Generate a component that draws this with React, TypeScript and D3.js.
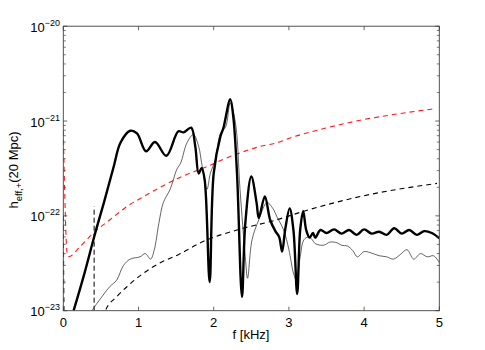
import React from "react";
import * as d3 from "d3";

// frequency [kHz], h_eff,+ (strain)
const thickF = [0.137, 0.27, 0.40, 0.45, 0.54, 0.67, 0.76, 0.89, 0.98, 1.10, 1.22, 1.37, 1.53, 1.60, 1.70, 1.755, 1.80, 1.84, 1.88, 1.946, 2.0, 2.09, 2.13, 2.22, 2.26, 2.31, 2.376, 2.42, 2.50, 2.57, 2.60, 2.68, 2.75, 2.82, 2.87, 2.91, 2.95, 3.01, 3.06, 3.11, 3.15, 3.19, 3.23, 3.275, 3.32, 3.35, 3.42, 3.5, 3.6, 3.7, 3.8, 3.9, 4.0, 4.1, 4.2, 4.3, 4.4, 4.5, 4.6, 4.7, 4.8, 4.9, 5.0];
const thickH = [1.0e-23, 2.3e-23, 5.6e-23, 7.8e-23, 1.38e-22, 3.3e-22, 5.9e-22, 7.9e-22, 7.4e-22, 4.8e-22, 6.0e-22, 4.3e-22, 7.8e-22, 7.6e-22, 8.5e-22, 5.4e-22, 2.8e-22, 3.2e-22, 2.4e-22, 2.0e-23, 2.8e-22, 6.9e-22, 8.5e-22, 1.7e-21, 1.12e-21, 2.8e-22, 1.4e-23, 8.3e-23, 2.6e-22, 1.38e-22, 9.5e-23, 1.6e-22, 9.1e-23, 6.9e-23, 6.0e-23, 4.2e-23, 7.1e-23, 1.2e-22, 7.1e-23, 1.5e-23, 7.1e-23, 1.12e-22, 7.1e-23, 5.9e-23, 6.6e-23, 5.9e-23, 7.1e-23, 6.6e-23, 7.2e-23, 6.5e-23, 7.1e-23, 6.3e-23, 7.2e-23, 6.5e-23, 6.8e-23, 6.3e-23, 7.4e-23, 6.5e-23, 7.1e-23, 6.3e-23, 6.9e-23, 6.6e-23, 5.8e-23];

const thinF = [0.38, 0.45, 0.54, 0.62, 0.71, 0.80, 0.89, 1.02, 1.09, 1.16, 1.21, 1.27, 1.33, 1.42, 1.51, 1.56, 1.645, 1.73, 1.80, 1.84, 1.91, 1.955, 2.02, 2.09, 2.16, 2.22, 2.29, 2.35, 2.42, 2.45, 2.51, 2.60, 2.71, 2.80, 2.84, 2.93, 3.0, 3.06, 3.10, 3.15, 3.2, 3.26, 3.31, 3.35, 3.46, 3.55, 3.64, 3.70, 3.78, 3.85, 3.91, 4.0, 4.08, 4.2, 4.30, 4.39, 4.48, 4.57, 4.66, 4.75, 4.84, 4.92, 4.97, 5.0];
const thinH = [1.0e-23, 1.2e-23, 1.5e-23, 1.8e-23, 2.1e-23, 3.0e-23, 3.5e-23, 3.7e-23, 4.0e-23, 3.5e-23, 4.4e-23, 8.3e-23, 1.38e-22, 1.9e-22, 3.1e-22, 3.6e-22, 5.9e-22, 7.2e-22, 5.4e-22, 3.6e-22, 1.9e-22, 2.8e-22, 3.9e-22, 7.4e-22, 8.7e-22, 1.55e-21, 9.5e-22, 1.9e-22, 3.7e-23, 2.2e-23, 5.6e-23, 9.1e-23, 1.38e-22, 1.15e-22, 9.8e-23, 7.1e-23, 4.4e-23, 2.5e-23, 2.1e-23, 3.7e-23, 5.6e-23, 6.0e-23, 5.6e-23, 5.1e-23, 4.9e-23, 5.3e-23, 5.2e-23, 4.9e-23, 4.8e-23, 4.3e-23, 3.7e-23, 4.2e-23, 4.1e-23, 3.8e-23, 3.7e-23, 3.5e-23, 3.9e-23, 4.4e-23, 3.5e-23, 4.0e-23, 3.7e-23, 3.8e-23, 3.5e-23, 3.2e-23];

const redF = [0.0, 0.02, 0.05, 0.07, 0.23, 0.40, 0.62, 0.85, 1.07, 1.29, 1.53, 1.865, 2.31, 2.62, 2.84, 3.06, 3.51, 3.95, 4.39, 4.94];
const redH = [7.9e-22, 1.6e-22, 4.1e-23, 3.7e-23, 4.8e-23, 6.6e-23, 9.1e-23, 1.26e-22, 1.6e-22, 2.0e-22, 2.5e-22, 3.2e-22, 4.5e-22, 5.4e-22, 5.9e-22, 6.8e-22, 8.5e-22, 1.02e-21, 1.17e-21, 1.35e-21];

const blackF = [0.0, 0.012, 0.52, 0.56, 0.71, 0.85, 1.07, 1.29, 1.53, 1.865, 2.31, 2.84, 3.2, 3.95, 4.97];
const blackH = [1.0e-22, 8.0e-24, 8.0e-24, 1.0e-23, 1.4e-23, 1.8e-23, 2.5e-23, 3.2e-23, 3.9e-23, 5.4e-23, 7.1e-23, 9.1e-23, 1.12e-22, 1.6e-22, 2.2e-22];

const markerF = 0.41;
const markerH = [1.0e-23, 1.26e-22];

const xTicks = [0, 1, 2, 3, 4, 5];
const yDecades = [-23, -22, -21, -20];

const W = 485, H = 350;
const L = 63.3, R = 439.3, T = 26.2, B = 310.7;

export default function App() {
  const x = d3.scaleLinear().domain([0, 5]).range([L, R]);
  const y = d3.scaleLog().domain([1e-23, 1e-20]).range([B, T]);
  const zip = (a: number[], b: number[]) => a.map((v, i) => [v, b[i]] as [number, number]);
  const smooth = d3.line<[number, number]>().x(d => x(d[0])).y(d => y(d[1])).curve(d3.curveCatmullRom.alpha(0.5));
  const mono = d3.line<[number, number]>().x(d => x(d[0])).y(d => y(d[1])).curve(d3.curveMonotoneX);

  const minor: number[] = [];
  for (let k = -23; k < -20; k++) for (let m = 2; m <= 9; m++) minor.push(m * Math.pow(10, k));

  const font = "'Liberation Sans', Arial, Helvetica, sans-serif";
  const axisColor = "#404040";

  return (
    <svg width={W} height={H} style={{ position: "absolute", left: 0, top: 0, background: "#fff" }} fontFamily={font}>
      <defs>
        <clipPath id="plot"><rect x={L} y={T} width={R - L} height={B - T} /></clipPath>
      </defs>
      <rect x={0} y={0} width={W} height={H} fill="#fff" />
      <g clipPath="url(#plot)" fill="none">
        <path d={mono(zip(redF, redH)) || ""} stroke="#ff1a1a" strokeWidth={1.1} strokeDasharray="5,4" />
        <path d={mono(zip(blackF, blackH)) || ""} stroke="#000" strokeWidth={1.1} strokeDasharray="5,4" />
        <line x1={x(markerF)} x2={x(markerF)} y1={y(markerH[0])} y2={y(markerH[1])} stroke="#000" strokeWidth={1} strokeDasharray="5,3" />
        <path d={smooth(zip(thinF, thinH)) || ""} stroke="#222" strokeWidth={0.7} />
        <path d={smooth(zip(thickF, thickH)) || ""} stroke="#000" strokeWidth={2.4} strokeLinejoin="round" />
      </g>
      {/* box */}
      <rect x={L} y={T} width={R - L} height={B - T} fill="none" stroke={axisColor} strokeWidth={0.9} />
      {/* x ticks */}
      {xTicks.map(t => (
        <g key={"x" + t}>
          <line x1={x(t)} x2={x(t)} y1={B} y2={B - 4} stroke={axisColor} strokeWidth={0.8} />
          <line x1={x(t)} x2={x(t)} y1={T} y2={T + 4} stroke={axisColor} strokeWidth={0.8} />
          <text x={x(t)} y={327} fontSize={13} textAnchor="middle" fill="#000">{t}</text>
        </g>
      ))}
      {/* y ticks */}
      {yDecades.map(k => {
        const v = Math.pow(10, k);
        return (
          <g key={"y" + k}>
            <line x1={L} x2={L + 4} y1={y(v)} y2={y(v)} stroke={axisColor} strokeWidth={0.8} />
            <line x1={R} x2={R - 4} y1={y(v)} y2={y(v)} stroke={axisColor} strokeWidth={0.8} />
            <text x={60} y={y(v) + 5.5} fontSize={13} textAnchor="end" fill="#000">
              10<tspan fontSize={9} dy={-6}>{String(k).replace("-", "\u2212")}</tspan>
            </text>
          </g>
        );
      })}
      {minor.map((v, i) => (
        <g key={"m" + i}>
          <line x1={L} x2={L + 2.5} y1={y(v)} y2={y(v)} stroke={axisColor} strokeWidth={0.7} />
          <line x1={R} x2={R - 2.5} y1={y(v)} y2={y(v)} stroke={axisColor} strokeWidth={0.7} />
        </g>
      ))}
      <text x={251} y={339} fontSize={13} textAnchor="middle" fill="#000">f [kHz]</text>
      <text transform="translate(18,170) rotate(-90)" fontSize={13} textAnchor="middle" fill="#000">
        h<tspan fontSize={9.5} dy={3.5}>eff,+</tspan><tspan dy={-3.5}>(20 Mpc)</tspan>
      </text>
    </svg>
  );
}
